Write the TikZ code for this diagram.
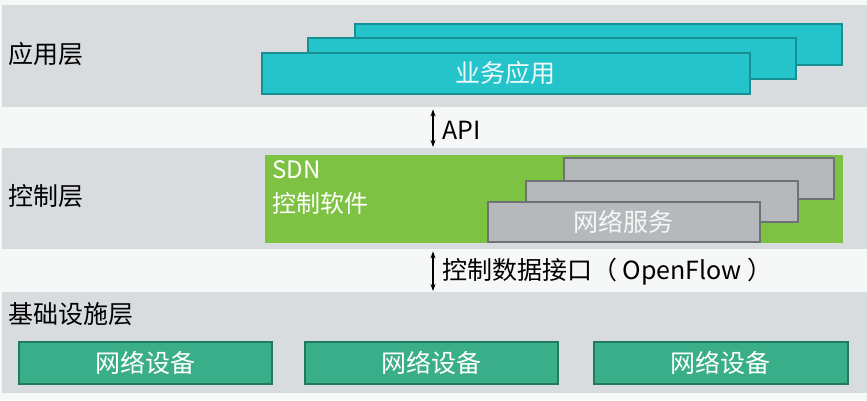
\documentclass[tikz,border=0pt]{standalone}
\usepackage{fontspec}
\setmainfont{Noto Sans CJK SC}
\usetikzlibrary{arrows.meta}

\definecolor{bandgray}{HTML}{D9DCDF}
\definecolor{paper}{HTML}{F6F7F7}
\definecolor{appfill}{HTML}{25C4CB}
\definecolor{appline}{HTML}{168F95}
\definecolor{sdngreen}{HTML}{7EC244}
\definecolor{svcfill}{HTML}{B5B9BC}
\definecolor{svcline}{HTML}{6E7274}
\definecolor{devfill}{HTML}{3AAE88}
\definecolor{devline}{HTML}{1E7B5C}

\begin{document}
\begin{tikzpicture}[x=1pt,y=-1pt,>={Stealth[length=7pt,width=5pt]},
  band/.style={fill=bandgray,inner sep=0pt,anchor=north west},
  layer/.style={anchor=west,font=\fontsize{25}{28}\selectfont,text=black},
  appbox/.style={fill=appfill,draw=appline,line width=1.6pt,anchor=north west,inner sep=0pt},
  svcbox/.style={fill=svcfill,draw=svcline,line width=1.6pt,anchor=north west,inner sep=0pt},
  devbox/.style={fill=devfill,draw=devline,line width=1.6pt,anchor=north west,inner sep=0pt,
    text=white,font=\fontsize{25}{28}\selectfont},
  ifc/.style={anchor=west,inner xsep=9pt,font=\fontsize{25}{28}\selectfont,text=black},
  dbl/.style={<->,line width=1.3pt,shorten <=2pt,shorten >=1pt}]

\fill[paper] (0,0) rectangle (867,400);
\useasboundingbox (0,0) rectangle (867,400);

% layers
\node[band,minimum width=865pt,minimum height=102pt] (appband) at (2,5) {};
\node[band,minimum width=865pt,minimum height=101pt] (ctrlband) at (2,148) {};
\node[band,minimum width=865pt,minimum height=101pt] (infband) at (2,292) {};

\node[layer] (applbl) at (5,54) {应用层};
\node[layer] (ctrllbl) at (5,196) {控制层};
\node[layer] (inflbl) at (5,314) {基础设施层};

% application layer
\node[appbox,minimum width=487pt,minimum height=41pt] (app3) at (354,23) {};
\node[appbox,minimum width=488pt,minimum height=41pt] (app2) at (307,37) {};
\node[appbox,minimum width=488pt,minimum height=41pt,text=white!92!appfill,
  font=\fontsize{25}{28}\selectfont] (app1) at (261,52) {业务应用};

% control layer
\node[fill=sdngreen,anchor=north west,inner sep=0pt,minimum width=578pt,
  minimum height=88pt] (sdn) at (265,155) {};
\node[anchor=north west,align=left,text=white,inner sep=0pt,
  font=\fontsize{24}{34}\selectfont] (sdnlbl) at (272,160) {SDN\\控制软件};
\node[svcbox,minimum width=270pt,minimum height=41pt] (svc3) at (563,157) {};
\node[svcbox,minimum width=272pt,minimum height=41pt] (svc2) at (525,180) {};
\node[svcbox,minimum width=272pt,minimum height=40pt,text=white!88!svcfill,
  font=\fontsize{25}{28}\selectfont] (svc1) at (487,201) {网络服务};

% infrastructure layer
\node[devbox,minimum width=253pt,minimum height=42pt] (dev1) at (18,341) {网络设备};
\node[devbox,minimum width=253pt,minimum height=42pt] (dev2) at (304,341) {网络设备};
\node[devbox,minimum width=254pt,minimum height=42pt] (dev3) at (593,341) {网络设备};

% interfaces
\node[ifc] (api) at (433,130) {API};
\node[ifc] (ofp) at (433,272) {控制数据接口（ OpenFlow ）};
\draw[dbl] (appband.south -| api.west) -- (ctrlband.north -| api.west);
\draw[dbl] (ctrlband.south -| ofp.west) -- (infband.north -| ofp.west);
\end{tikzpicture}
\end{document}
